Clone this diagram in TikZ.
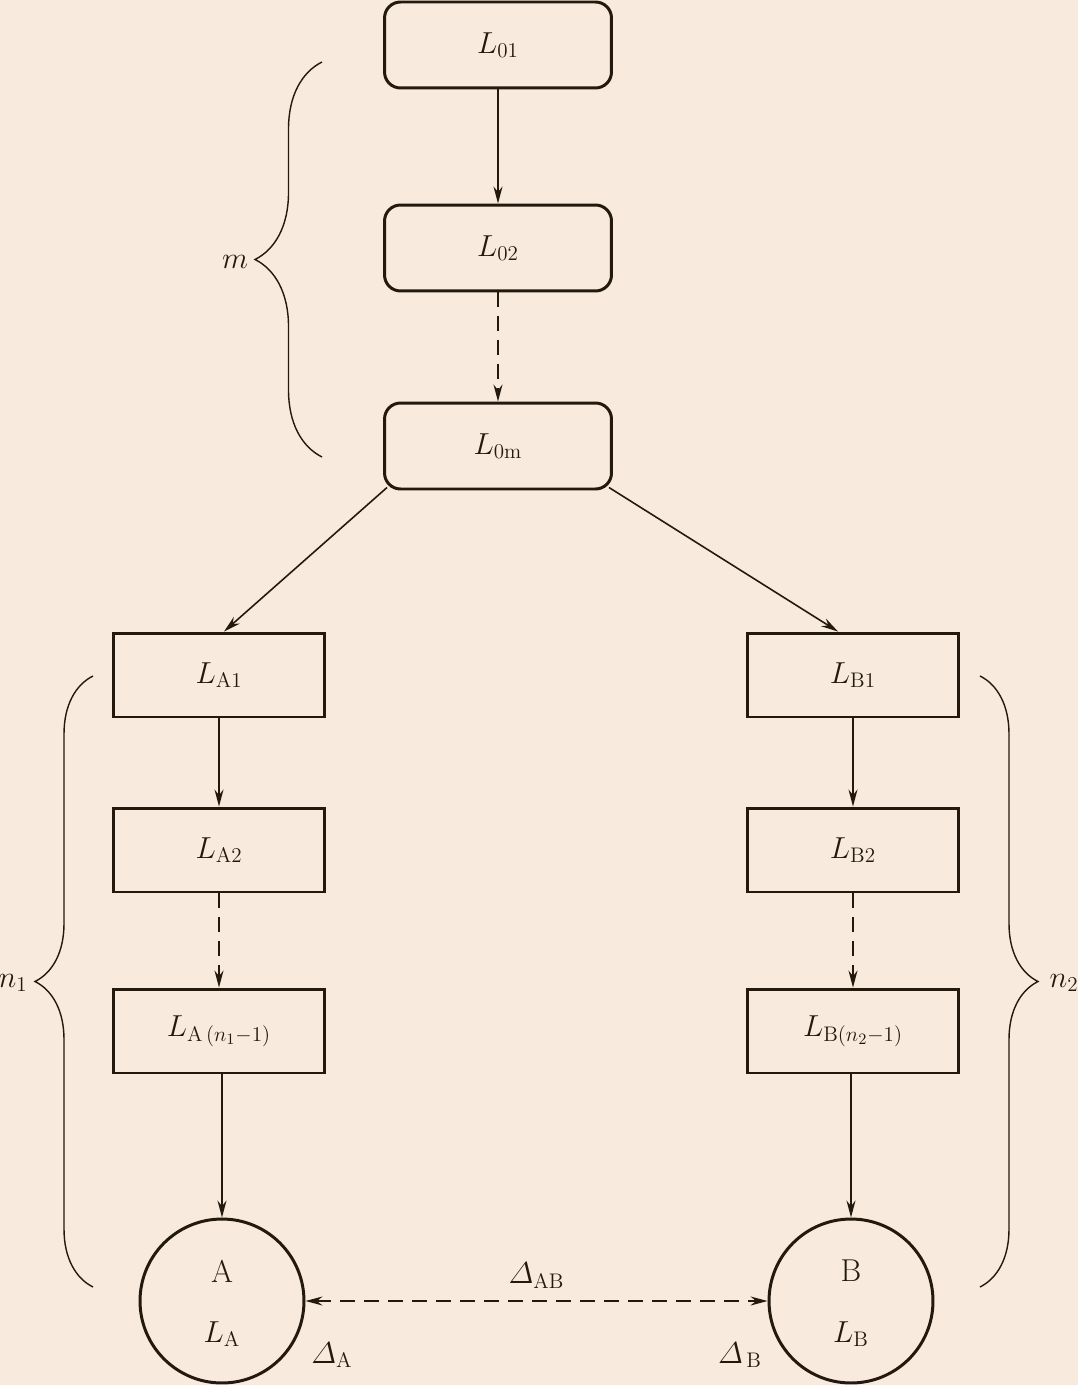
\documentclass[tikz,border=0pt]{standalone}
\usepackage{amsmath}
\usepackage{amssymb}
\usepackage{tikz}
\usetikzlibrary{arrows.meta,decorations.pathreplacing}
\usetikzlibrary{positioning}
\definecolor{paper}{RGB}{248,235,221}
\definecolor{ink}{RGB}{35,25,15}

\begin{document}
\begin{tikzpicture}[x=0.02cm,y=-0.02cm,
	font=\fontsize{18}{22}\selectfont,color=ink,
	rbox/.style={draw,line width=1.7pt,rounded corners=0.32cm,minimum width=4.54cm,minimum height=1.72cm},
	sbox/.style={draw,line width=1.7pt,minimum width=4.22cm,minimum height=1.68cm},
	state/.style={draw,circle,line width=1.7pt,minimum size=3.28cm,inner sep=0pt},
	flow/.style={-{Stealth[length=0.34cm,width=0.18cm]},line width=0.9pt},
	dflow/.style={flow,dash pattern=on 0.3cm off 0.18cm},
	bflow/.style={{Stealth[length=0.34cm,width=0.18cm]}-{Stealth[length=0.34cm,width=0.18cm]},line width=0.9pt,dash pattern=on 0.3cm off 0.18cm},
	grp/.style={decorate,decoration={brace,amplitude=#1},line width=0.8pt},
	grp/.default=1.34cm]

	\fill[paper] (0,0) rectangle (1078,1385);
	\useasboundingbox (0,0) rectangle (1078,1385);

	% common chain
	\node[rbox] (L01) at (498,45) {$L_{01}$};
	\node[rbox] (L02) at (498,248) {$L_{02}$};
	\node[rbox] (L0m) at (498,446) {$L_{0\mathrm{m}}$};

	% branch A
	\node[sbox] (LA1) at (219,675) {$L_{\mathrm{A}1}$};
	\node[sbox] (LA2) at (219,850) {$L_{\mathrm{A}2}$};
	\node[sbox] (LAn) at (219,1031) {$L_{\mathrm{A}\,(n_1-1)}$};
	\node[state] (A) at (222,1301) {};
	\node (Aname) at ([yshift=0.6cm]A.center) {A};
	\node (Alen) at ([yshift=-0.66cm]A.center) {$L_{\mathrm{A}}$};

	% branch B
	\node[sbox] (LB1) at (853,675) {$L_{\mathrm{B}1}$};
	\node[sbox] (LB2) at (853,850) {$L_{\mathrm{B}2}$};
	\node[sbox] (LBn) at (853,1031) {$L_{\mathrm{B}(n_2-1)}$};
	\node[state] (B) at (851,1301) {};
	\node (Bname) at ([yshift=0.6cm]B.center) {B};
	\node (Blen) at ([yshift=-0.66cm]B.center) {$L_{\mathrm{B}}$};

	% arrows
	\draw[flow] (L01) -- (L02);
	\draw[dflow] (L02) -- (L0m);
	\draw[flow] ([xshift=0.08cm,yshift=0.06cm]L0m.south west) -- ([xshift=0.1cm]LA1.north);
	\draw[flow] ([xshift=-0.08cm,yshift=0.06cm]L0m.south east) -- ([xshift=-0.3cm]LB1.north);
	\draw[flow] (LA1) -- (LA2);
	\draw[dflow] (LA2) -- (LAn);
	\draw[flow] (A.north |- LAn.south) -- (A.north);
	\draw[flow] (LB1) -- (LB2);
	\draw[dflow] (LB2) -- (LBn);
	\draw[flow] (B.north |- LBn.south) -- (B.north);
	\draw[bflow] (A) -- (B) node[midway,above=0.12cm] (dAB) {$\varDelta_{\mathrm{AB}}$};

	\node (dA) at (332,1355) {$\varDelta_{\mathrm{A}}$};
	\node (dB) at (740,1355) {$\varDelta_{\,\mathrm{B}}$};

	% braces
	\draw[grp] (322,457) -- (322,62);
	\node (m) at (235,262) {$m$};
	\draw[grp=1.16cm] (93,1287) -- (93,676);
	\node (n1) at (13,983) {$n_1$};
	\draw[grp=1.16cm] (980,676) -- (980,1287);
	\node (n2) at (1064,983) {$n_2$};

\end{tikzpicture}
\end{document}
